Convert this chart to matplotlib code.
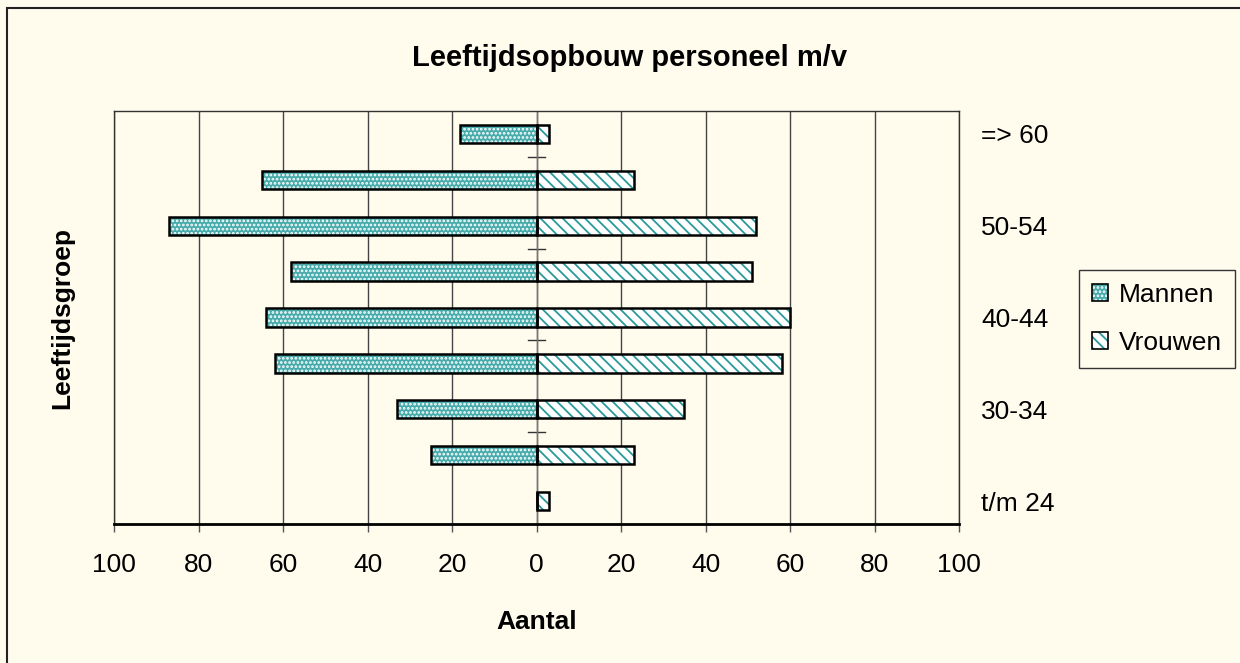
import matplotlib
matplotlib.use("Agg")
import matplotlib.pyplot as plt
import matplotlib.patches as mpatches
import numpy as np

# Age groups from young to old (bottom to top)
groups = ["t/m 24", "25-29", "30-34", "35-39", "40-44",
          "45-49", "50-54", "55-59", "=> 60"]
mannen = [0, 25, 33, 62, 64, 58, 87, 65, 18]
vrouwen = [3, 23, 35, 58, 60, 51, 52, 23, 3]
xticks = [-100, -80, -60, -40, -20, 0, 20, 40, 60, 80, 100]

bg = "#FFFCEE"
teal = "#48ABAB"
teal_dark = "#2A9A9A"

plt.rcParams["font.family"] = ["Liberation Sans", "DejaVu Sans"]
plt.rcParams["hatch.linewidth"] = 1.3

fig = plt.figure(figsize=(12.4, 6.63), dpi=100, facecolor=bg)
ax = fig.add_axes([114 / 1240, 1 - 524 / 663, 845 / 1240, 413 / 663])
ax.set_facecolor(bg)

y = np.arange(len(groups))
h = 0.4
neg = -np.array(mannen)

# Mannen: teal with white dots
ax.barh(y, neg, height=h, color=teal, hatch="....", edgecolor="white",
        linewidth=0, zorder=2)
ax.barh(y, neg, height=h, color="none", edgecolor="black", linewidth=1.8, zorder=3)
# Vrouwen: white with teal pattern
ax.barh(y, vrouwen, height=h, color="white", hatch="\\\\\\", edgecolor=teal_dark,
        linewidth=0, zorder=2)
ax.barh(y, vrouwen, height=h, color="none", edgecolor="black", linewidth=1.8, zorder=3)

ax.set_xlim(-100, 100)
ax.set_ylim(-0.5, len(groups) - 0.5)

ax.set_xticks(xticks)
ax.set_xticklabels([str(abs(v)) for v in xticks], fontsize=19)
ax.tick_params(axis="x", length=6, width=1, color="#555555", pad=15)
ax.xaxis.grid(True, color="#444444", linewidth=1, zorder=0)
ax.set_axisbelow(True)

# category labels on the right, every other group
ax.yaxis.tick_right()
ax.set_yticks(y[::2])
ax.set_yticklabels(groups[::2], fontsize=19)
ax.tick_params(axis="y", length=0, pad=16)

# small tick marks on the centre axis between category pairs
for b in np.arange(1.5, len(groups) - 1, 2):
    ax.plot([-2, 2], [b, b], color="#333333", linewidth=1, zorder=1)
ax.axvline(0, color="#777777", linewidth=1, zorder=1)

for s in ["left", "right", "top"]:
    ax.spines[s].set_color("#333333")
    ax.spines[s].set_linewidth(1)
ax.spines["bottom"].set_color("black")
ax.spines["bottom"].set_linewidth(2)

fig.text(630 / 1240, 1 - 58 / 663, "Leeftijdsopbouw personeel m/v",
         ha="center", va="center", fontsize=21, fontweight="bold")
fig.text(536.5 / 1240, 1 - 622 / 663, "Aantal", ha="center", va="center",
         fontsize=19, fontweight="bold")
fig.text(62 / 1240, 1 - 318 / 663, "Leeftijdsgroep", ha="center", va="center",
         rotation=90, fontsize=19, fontweight="bold")

# legend with hatched squares
hm = (mpatches.Patch(facecolor=teal, hatch="....", edgecolor="white", linewidth=0),
      mpatches.Patch(facecolor="none", edgecolor="black", linewidth=1.2))
hv = (mpatches.Patch(facecolor="white", hatch="\\\\\\", edgecolor=teal_dark, linewidth=0),
      mpatches.Patch(facecolor="none", edgecolor="black", linewidth=1.2))
leg = fig.legend([hm, hv], ["Mannen", "Vrouwen"], loc="center left",
                 bbox_to_anchor=(1079 / 1240, 1 - 319 / 663), fontsize=19,
                 handlelength=0.6, handleheight=0.6, handletextpad=0.4,
                 labelspacing=0.9, borderpad=0.5, fancybox=False,
                 framealpha=1, facecolor=bg, edgecolor="#333333",
                 borderaxespad=0)
leg.get_frame().set_linewidth(1)

# outer chart border
fig.patches.append(mpatches.Rectangle((7 / 1240, -0.5), 2, 1.5 - 8 / 663,
                                      transform=fig.transFigure, fill=False,
                                      edgecolor="#222222", linewidth=1.5))

fig.savefig("out.png", dpi=100, facecolor=bg)
